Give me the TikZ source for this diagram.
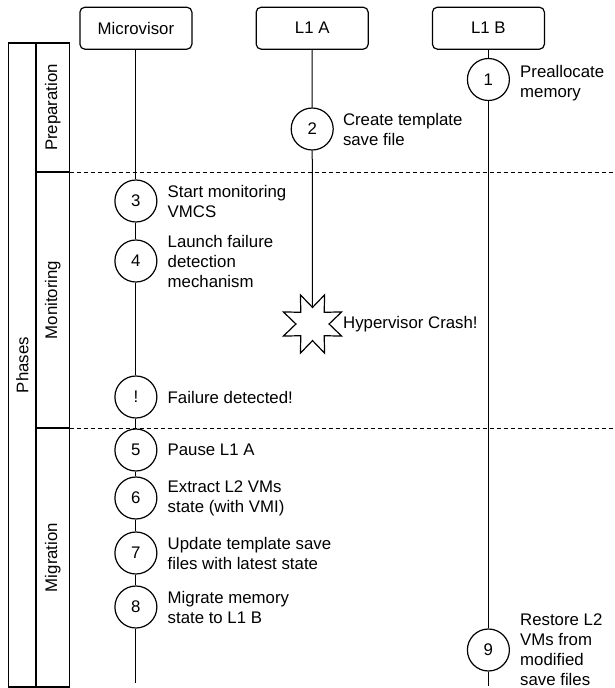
\documentclass[tikz,border=0pt]{standalone}
\usepackage{fontspec}
\setmainfont{Liberation Sans}
\usetikzlibrary{positioning,shapes.geometric}

\begin{document}
\begin{tikzpicture}[x=1pt,y=-1pt,
  font=\fontsize{16.8}{20}\selectfont,
  lane/.style={draw,line width=1.2pt,rounded corners=5pt,minimum width=112pt,minimum height=42pt,inner sep=0pt},
  stepnode/.style={draw,circle,line width=1.2pt,minimum size=42pt,inner sep=0pt},
  desc/.style={align=left,inner sep=0pt},
  phasebox/.style={draw,line width=1.3pt,rotate=90,inner sep=0pt},
  life/.style={line width=1pt},
  sep/.style={line width=0.9pt,dash pattern=on 4pt off 3pt}]
\useasboundingbox (0,0) rectangle (614,688);

% lanes
\node[lane] (mv) at (135.9,28.2) {Microvisor};
\node[lane] (la) at (312.2,28.2) {L1 A};
\node[lane] (lb) at (488.4,28.2) {L1 B};

% phases column
\node[phasebox,minimum width=644pt,minimum height=27.4pt] (phases) at (22.3,365) {Phases};
\node[phasebox,minimum width=129pt,minimum height=33.7pt] (prep) at (52.85,107.5) {Preparation};
\node[phasebox,minimum width=256pt,minimum height=33.7pt] (mon) at (52.85,300) {Monitoring};
\node[phasebox,minimum width=259pt,minimum height=33.7pt] (mig) at (52.85,557.5) {Migration};
\draw[sep] (69.7,172) -- (614,172);
\draw[sep] (69.7,428) -- (614,428);

% steps
\node[stepnode] (c1) at (488.4,79.5) {1};
\node[desc,right=10pt of c1,yshift=-4pt] (t1) {Preallocate\\memory};
\node[stepnode] (c2) at (312.2,129) {2};
\node[desc,right=9pt of c2] (t2) {Create template\\save file};

\foreach \n/\lbl/\y/\txt in {3/3/201/{Start monitoring\\VMCS},
  4/4/261/{Launch failure\\detection\\mechanism},
  x/!/397/{Failure detected!},
  5/5/450/{Pause L1 A},
  6/6/498/{Extract L2 VMs\\state (with VMI)},
  7/7/553/{Update template save\\files with latest state},
  8/8/607/{Migrate memory\\state to L1 B}}
{
\node[stepnode] (c\n) at (135.9,\y) {\lbl};
\node[desc,right=10pt of c\n] (t\n) {\txt};
}

\node[star,star points=8,star point ratio=1.9,shape border rotate=22.5,draw,line width=1.2pt,minimum size=63pt,inner sep=0pt] (crash) at (312.5,324) {};
\node[desc,anchor=west] (tcrash) at (343,324) {Hypervisor Crash!};

\node[stepnode] (c9) at (488.4,650) {9};
\node[desc,right=10pt of c9] (t9) {Restore L2\\VMs from\\modified\\save files};

% lifelines
\coordinate (mvend) at (135.9,683);
\coordinate (lbend) at (488.4,686);
\draw[life] (mv) -- (c3) -- (c4) -- (cx) -- (c5) -- (c6) -- (c7) -- (c8) -- (mvend);
\draw[life] (la) -- (c2) -- (crash);
\draw[life] (lb) -- (c1) -- (c9) -- (lbend);
\end{tikzpicture}
\end{document}
